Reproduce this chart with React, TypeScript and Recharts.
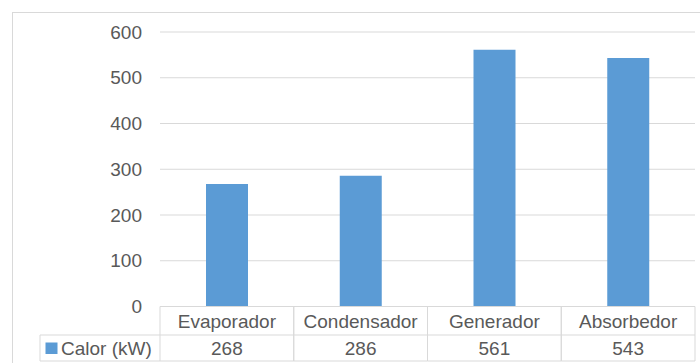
import { BarChart, Bar, XAxis, YAxis, CartesianGrid } from "recharts";

const categories = ["Evaporador", "Condensador", "Generador", "Absorbedor"];
const calor = [268, 286, 561, 543];
const yTicks = [0, 100, 200, 300, 400, 500, 600];
const seriesName = "Calor (kW)";

const W = 700;
const H = 363;
const margin = { top: 32, right: 5, left: 0, bottom: 0 };
const yAxisW = 160;
const colW = (W - margin.left - margin.right - yAxisW) / categories.length;

const grey = "#595959";
const line = "#D9D9D9";
const blue = "#5B9BD5";
const font = "'Liberation Sans', Arial, sans-serif";

const data = categories.map((name, i) => ({ name, value: calor[i] }));

function TableTick(props: any) {
  const { x, y, payload, index } = props;
  const left = x - colW / 2;
  const right = x + colW / 2;
  const y1 = y + 28.5;
  const y2 = y + 54.5;
  const legLeft = 40;
  return (
    <g>
      <line x1={left} x2={right} y1={y} y2={y} stroke={line} />
      <line x1={left} x2={right} y1={y1} y2={y1} stroke={line} />
      <line x1={left} x2={right} y1={y2} y2={y2} stroke={line} />
      <line x1={left} x2={left} y1={y} y2={y2} stroke={line} />
      <line x1={right} x2={right} y1={y} y2={y2} stroke={line} />
      <text x={x} y={y + 21} textAnchor="middle" fill={grey} fontSize={19} fontFamily={font}>
        {payload.value}
      </text>
      <text x={x} y={y + 48} textAnchor="middle" fill={grey} fontSize={19} fontFamily={font}>
        {calor[index]}
      </text>
      {index === 0 && (
        <g>
          <line x1={legLeft} x2={left} y1={y1} y2={y1} stroke={line} />
          <line x1={legLeft} x2={left} y1={y2} y2={y2} stroke={line} />
          <line x1={legLeft} x2={legLeft} y1={y1} y2={y2} stroke={line} />
          <rect x={legLeft + 5.5} y={y1 + 7.5} width={12} height={11.5} fill={blue} />
          <text x={legLeft + 21} y={y + 48} fill={grey} fontSize={19} fontFamily={font}>
            {seriesName}
          </text>
        </g>
      )}
    </g>
  );
}

export default function App() {
  return (
    <div style={{ position: "fixed", left: 0, top: 0, width: W, height: H, overflow: "hidden", background: "#fff" }}>
      <div
        style={{
          position: "absolute",
          left: 12,
          top: 12,
          width: 760,
          height: 420,
          border: `1px solid ${line}`,
        }}
      />
      <div style={{ position: "absolute", left: 0, top: 0 }}>
        <BarChart width={W} height={H} data={data} margin={margin}>
          <CartesianGrid vertical={false} stroke={line} />
          <XAxis
            dataKey="name"
            axisLine={false}
            tickLine={false}
            tickSize={0}
            tickMargin={0}
            height={56.5}
            interval={0}
            tick={<TableTick />}
          />
          <YAxis
            domain={[0, 600]}
            ticks={yTicks}
            width={yAxisW}
            axisLine={false}
            tickLine={false}
            tickSize={0}
            tickMargin={18}
            tick={{ fill: grey, fontSize: 19, fontFamily: font }}
          />
          <Bar dataKey="value" name={seriesName} fill={blue} barSize={42} isAnimationActive={false} />
        </BarChart>
      </div>
    </div>
  );
}
